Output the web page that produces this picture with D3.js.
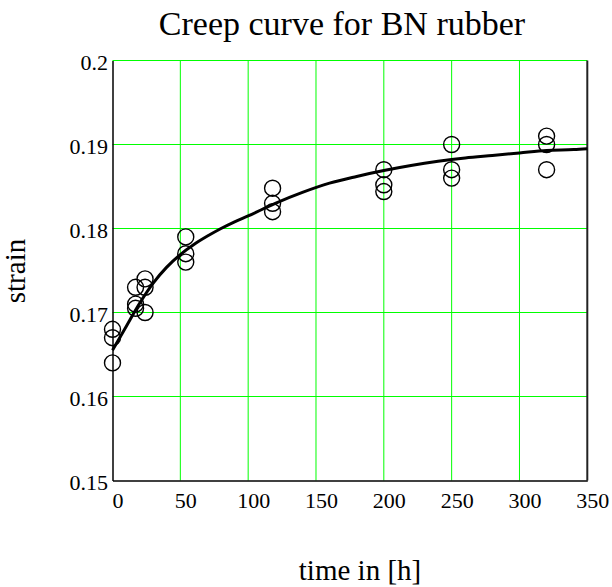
<!DOCTYPE html>
<html>
<head>
<meta charset="utf-8">
<script src="https://cdn.jsdelivr.net/npm/d3@7"></script>
<style>
  html, body { margin: 0; padding: 0; background: #fff; }
  svg text { font-family: "Liberation Serif", "Times New Roman", serif !important; fill: #000; }
</style>
</head>
<body>
<svg id="chart" width="612" height="587"></svg>
<script>
// Measured data points (time in h, strain)
const pointTimes   = [0, 0, 0, 17, 17, 17, 24, 24, 24, 54, 54, 54, 118, 118, 118, 200, 200, 200, 250, 250, 250, 320, 320, 320];
const pointStrains = [0.168, 0.167, 0.164, 0.173, 0.171, 0.1705, 0.174, 0.173, 0.170, 0.179, 0.177, 0.176, 0.1848, 0.183, 0.182, 0.187, 0.1852, 0.1844, 0.190, 0.187, 0.186, 0.191, 0.190, 0.187];

// Fitted curve
const curveTimes   = [0, 10, 20, 30, 40, 50, 60, 70, 80, 90, 100, 120, 140, 160, 180, 200, 220, 240, 260, 280, 300, 320, 340, 350];
const curveStrains = [0.1655, 0.1683, 0.1711, 0.1735, 0.1754, 0.1769, 0.1781, 0.1791, 0.1800, 0.1808, 0.1815, 0.1830, 0.1843, 0.1854, 0.1862, 0.1869, 0.1875, 0.1880, 0.1884, 0.1887, 0.1890, 0.1893, 0.1894, 0.1895];

const xTicks = [0, 50, 100, 150, 200, 250, 300, 350];
const yTicks = [0.15, 0.16, 0.17, 0.18, 0.19, 0.2];
const yTickLabels = ["0.15", "0.16", "0.17", "0.18", "0.19", "0.2"];

const titleText = "Creep curve for BN rubber";
const xLabel = "time in [h]";
const yLabel = "strain";

const svg = d3.select("#chart");
const pLeft = 112.5, pRight = 587.3, pTop = 60.5, pBottom = 480.5;

const x = d3.scaleLinear().domain([0, 350]).range([pLeft, pRight]);
const y = d3.scaleLinear().domain([0.15, 0.2]).range([pBottom, pTop]);

// Gridlines
const grid = svg.append("g");
grid.selectAll("line.v").data(xTicks.filter(d => d > 0 && d < 350)).enter().append("line")
  .attr("x1", d => x(d)).attr("x2", d => x(d)).attr("y1", pTop).attr("y2", pBottom)
  .attr("stroke", "#00ff00").attr("stroke-width", 1);
grid.selectAll("line.h").data(yTicks.filter(d => d > 0.15)).enter().append("line")
  .attr("y1", d => y(d)).attr("y2", d => y(d)).attr("x1", pLeft).attr("x2", pRight)
  .attr("stroke", "#00ff00").attr("stroke-width", 1);

// Right border
svg.append("line").attr("x1", pRight).attr("x2", pRight).attr("y1", pTop).attr("y2", pBottom)
  .attr("stroke", "#222").attr("stroke-width", 2);

// Axes
const xAxis = d3.axisBottom(x).tickValues(xTicks).tickSize(0).tickPadding(0).tickFormat(d3.format("d"));
const gx = svg.append("g").attr("transform", `translate(0,${pBottom})`).call(xAxis);
gx.select(".domain").attr("stroke", "#000").attr("stroke-width", 1.5);
gx.selectAll(".tick text").attr("font-size", 22)
  .attr("dx", 5).attr("dy", 0).attr("y", 27).attr("fill", "#000");

const yAxis = d3.axisLeft(y).tickValues(yTicks).tickSize(0).tickPadding(4.5)
  .tickFormat((d, i) => yTickLabels[i]);
const gy = svg.append("g").attr("transform", `translate(${pLeft},0)`).call(yAxis);
gy.select(".domain").attr("stroke", "#000").attr("stroke-width", 1.5);
gy.selectAll(".tick text").attr("font-size", 22)
  .attr("dy", "0.42em").attr("fill", "#000");

// Curve
const curveData = curveTimes.map((t, i) => [t, curveStrains[i]]);
svg.append("path").datum(curveData)
  .attr("d", d3.line().x(d => x(d[0])).y(d => y(d[1])).curve(d3.curveMonotoneX))
  .attr("fill", "none").attr("stroke", "#000").attr("stroke-width", 3);

// Points
const pts = pointTimes.map((t, i) => [t, pointStrains[i]]);
svg.append("g").selectAll("circle").data(pts).enter().append("circle")
  .attr("cx", d => x(d[0])).attr("cy", d => y(d[1])).attr("r", 8)
  .attr("fill", "none").attr("stroke", "#000").attr("stroke-width", 1.4);

// Title and labels
svg.append("text").attr("x", 342).attr("y", 35).attr("text-anchor", "middle")
  .attr("font-size", 34).text(titleText);
svg.append("text").attr("x", 360).attr("y", 580).attr("text-anchor", "middle")
  .attr("font-size", 29).text(xLabel);
svg.append("text").attr("transform", "translate(25,271) rotate(-90)").attr("text-anchor", "middle")
  .attr("font-size", 29).text(yLabel);
</script>
</body>
</html>
